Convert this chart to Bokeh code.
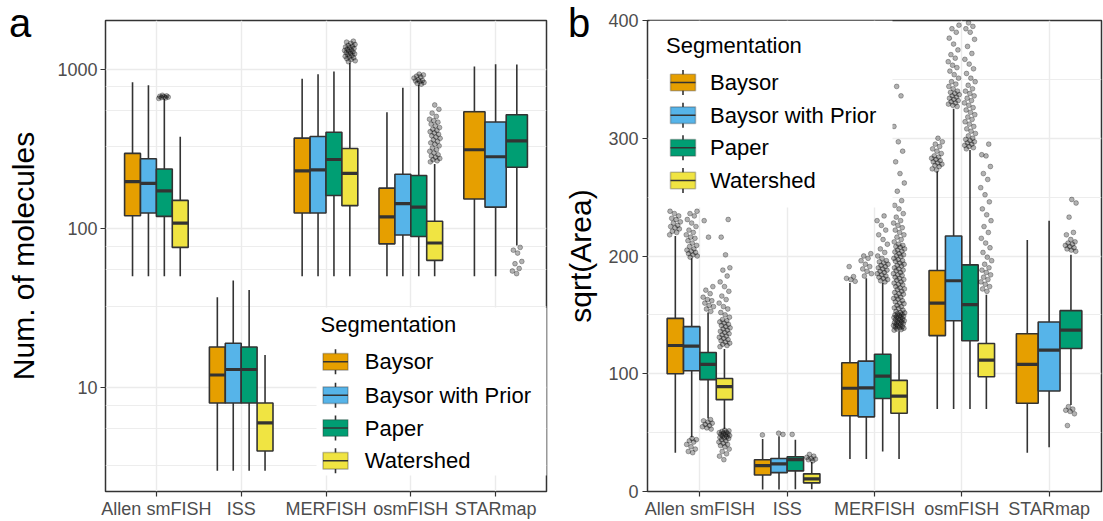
from bokeh.plotting import figure
from bokeh.layouts import row, column
from bokeh.models import (Range1d, FixedTicker, PrintfTickFormatter, Label, Div,
                          BoxAnnotation, Arrow, ColumnDataSource)
from bokeh.embed import file_html
from bokeh.resources import INLINE

FONT = "Liberation Sans"

# ---------------- data ----------------
categories = ["Allen smFISH", "ISS", "MERFISH", "osmFISH", "STARmap"]
methods = ["Baysor", "Baysor with Prior", "Paper", "Watershed"]
method_colors = ["#E69F00", "#56B4E9", "#009E73", "#F0E442"]

group_category = (["Allen smFISH"] * 4 + ["ISS"] * 4 + ["MERFISH"] * 4 +
                  ["osmFISH"] * 4 + ["STARmap"] * 3)
group_method = methods * 4 + methods[:3]

# (a) number of molecules per cell: whisker low, Q1, median, Q3, whisker high
molecules_low = [50, 50, 50, 50, 3, 3, 3, 3, 50, 50, 50, 50, 50, 50, 50, 50, 50, 50, 78]
molecules_q1 = [120, 125, 119, 76, 8, 8, 8, 4, 125, 125, 161, 139, 80, 91, 89, 63, 153, 136, 242]
molecules_median = [197, 192, 172, 108, 12, 13, 13, 6, 230, 233, 271, 222, 118, 143, 136, 81, 312, 282, 355]
molecules_q3 = [296, 274, 236, 150, 18, 19, 18, 8, 369, 378, 402, 318, 179, 219, 215, 111, 541, 466, 518]
molecules_high = [829, 794, 650, 376, 37, 47, 41, 16, 870, 930, 967, 1100, 536, 764, 800, 254, 1040, 1075, 1070]

molecules_outliers = {
    ("Allen smFISH", "Paper"): [655, 660, 664, 668, 672, 676, 680, 686],
    ("MERFISH", "Watershed"): [1115, 1130, 1150, 1165, 1180, 1195, 1205, 1220, 1235, 1250, 1260,
                               1270, 1285, 1300, 1310, 1320, 1335, 1350, 1365, 1380, 1395, 1410,
                               1430, 1455, 1480, 1500],
    ("osmFISH", "Paper"): [806, 815, 825, 835, 845, 850, 860, 880, 895, 905, 920, 931],
    ("osmFISH", "Watershed"): [262, 266, 270, 275, 280, 285, 290, 298, 305, 312, 320, 330, 338,
                               345, 352, 360, 368, 375, 382, 390, 398, 405, 412, 420, 430, 440,
                               452, 465, 475, 485, 505, 530, 560, 596],
    ("STARmap", "Paper"): [52, 54, 56, 60, 62, 70, 73, 76],
}

# (b) sqrt(Area): whisker low, Q1, median, Q3, whisker high
area_low = [33, 46, 62, 53, 1.7, 1.7, 2, 2, 27.6, 27.6, 34, 27.6, 70, 70, 70, 70, 33, 37.5, 73.5]
area_q1 = [100, 102.5, 95, 78, 14, 16, 17.5, 7.3, 64.3, 63.4, 79, 66.5, 132.4, 145, 128, 97.5, 75, 85.4, 121.5]
area_median = [124, 123.5, 108, 89, 22, 23.5, 27, 10.7, 87.7, 88, 98, 81, 160, 179, 158.7, 111.6, 108, 120, 137]
area_q3 = [147, 140, 118, 96, 27, 28, 29.5, 15, 109.4, 110.7, 116.5, 94.4, 187.7, 217, 192.5, 125.7, 134, 144, 153.6]
area_high = [217, 198, 152, 121, 44.5, 47, 44, 25, 177, 181, 177, 136, 272, 325, 290, 167, 213.6, 230, 201]

area_outliers = {
    ("Allen smFISH", "Baysor"): [218, 220, 221, 223, 224, 225, 226, 228, 229, 231, 232, 234, 236, 238],
    ("Allen smFISH", "Baysor with Prior"): [199, 200, 201, 202, 203, 204, 205, 206, 208, 209, 211,
                                            213, 215, 216, 218, 220, 222, 225, 228, 231, 234, 236,
                                            238, 33, 34, 36, 38, 40, 42, 43, 44, 45],
    ("Allen smFISH", "Paper"): [153, 155, 157, 158, 160, 162, 163, 165, 168, 171, 174, 216, 230,
                                53, 54, 55, 56, 57, 58, 59, 60, 61],
    ("Allen smFISH", "Watershed"): [123, 124, 125, 126, 127, 128, 129, 130, 131, 132, 133, 134, 135,
                                    136, 137, 138, 139, 140, 141, 142, 143, 144, 145, 146, 148, 150,
                                    152, 155, 157, 160, 163, 166, 170, 174, 178, 183, 188, 190, 201,
                                    216, 231, 27, 30, 32, 34, 36, 38, 39, 40, 41, 42, 43, 44, 45,
                                    45.5, 46, 46.5, 47, 47.5, 48, 48.5, 49, 49.5, 50, 50.5, 51, 51.5, 52],
    ("ISS", "Baysor"): [48],
    ("ISS", "Baysor with Prior"): [48.5, 49.5],
    ("ISS", "Paper"): [48.5],
    ("ISS", "Watershed"): [26, 27, 27.5, 28, 29, 30, 31.5],
    ("MERFISH", "Baysor"): [178.5, 180, 181, 182.5, 191],
    ("MERFISH", "Baysor with Prior"): [183, 185, 187, 189, 191, 193, 196, 198, 200, 202],
    ("MERFISH", "Paper"): [178, 179, 180, 181, 182, 183, 184, 185, 186, 187, 188, 189, 190, 191,
                           192, 193, 194, 195, 196, 198, 200, 203, 206, 210, 214, 218, 222, 226,
                           230, 234, 247],
    ("MERFISH", "Watershed"): [137, 137.5, 138, 138.6, 139, 139.7, 140, 140.4, 141, 141.8, 142,
                               142.5, 143, 143.6, 144, 144.3, 145, 145.8, 146, 146.5, 147, 147.7,
                               148, 148.4, 149, 149.6, 150, 150.5, 151, 151.7, 152, 153, 154, 155.5,
                               156, 157, 158, 159.5, 160, 161, 162, 163.5, 164, 165, 166, 167.5,
                               168, 169, 170, 171.5, 172, 173, 174, 175.5, 176, 177, 178, 179.5,
                               180, 181, 182, 183.5, 184, 185, 186, 187.5, 188, 189, 190, 191.5,
                               192, 193, 194, 195.5, 196, 197, 198, 199.5, 200, 201, 202, 203.5,
                               204, 205, 206, 207.5, 208, 209, 210, 212, 214, 216, 218, 220, 222,
                               224, 226, 228, 230, 233, 236, 240, 243, 247, 255, 262, 270, 280,
                               289, 297, 310, 336, 344],
    ("osmFISH", "Baysor"): [273, 274, 276, 277, 278, 279, 280, 281, 282, 283, 284, 285, 287, 289,
                            291, 293, 295, 297, 300],
    ("osmFISH", "Baysor with Prior"): [327, 328, 329, 330, 331, 332, 333, 334, 335, 336, 337, 338,
                                       339, 340, 342, 344, 346, 348, 351, 354, 357, 360, 362, 365,
                                       368, 371, 375, 380, 385, 390, 393, 396],
    ("osmFISH", "Paper"): [291, 292, 293, 294, 295, 296, 297, 298, 299, 300, 302, 304, 306, 308,
                           310, 312, 314, 316, 318, 320, 322, 324, 326, 328, 330, 332, 334, 336,
                           338, 340, 342, 345, 348, 351, 355, 359, 363, 367, 372, 378, 384, 390,
                           393, 395, 398],
    ("osmFISH", "Watershed"): [170, 172, 174, 176, 178, 180, 182, 184, 186, 188, 190, 193, 196,
                               199, 203, 207, 211, 215, 220, 225, 230, 235, 240, 246, 252, 258,
                               265, 270, 276, 285, 286, 295],
    ("STARmap", "Paper"): [204, 205, 206, 207, 208, 209, 210, 211, 212, 214, 218, 220, 233, 245,
                           248, 56, 66, 68, 69, 70, 72],
}

mol_major_ticks = [10, 100, 1000]
mol_minor_ticks = [3.25, 5.5, 7.75, 32.5, 55, 77.5, 325, 550, 775]
area_major_ticks = [0, 100, 200, 300, 400]
area_minor_ticks = [50, 150, 250, 350]

# ---------------- styling ----------------
DARK = "#333333"
GRID = "#EBEBEB"
TICK_TXT = "#4D4D4D"
JIT = 0.065


def dodge():
    xs, ws = [], []
    for c, m in zip(group_category, group_method):
        present = [mm for cc, mm in zip(group_category, group_method) if cc == c]
        n = len(present)
        j = present.index(m)
        w = 0.75 / n
        xs.append(categories.index(c) + 1 + (j - (n - 1) / 2) * w)
        ws.append(w)
    return xs, ws


def make_panel(low, q1, med, q3, high, outliers, log, yr, major, minor, ylabel,
               width, x_off, bl, br, legend_spec, ylab_standoff, ylab_standoff_ticks):
    fl, fb = x_off + bl, 521 - 28   # frame left / bottom in page pixels
    kw = dict(width=width, height=521, x_range=Range1d(0.4, 5.6), y_range=yr,
              output_backend="svg", toolbar_location=None,
              min_border_left=bl, min_border_right=br, min_border_top=20, min_border_bottom=28)
    if log:
        kw["y_axis_type"] = "log"
    p = figure(**kw)
    p.background_fill_color = "white"
    p.border_fill_color = None
    p.outline_line_color = DARK
    p.outline_line_width = 1.5

    # axes
    p.xaxis.ticker = FixedTicker(ticks=[1, 2, 3, 4, 5])
    p.xaxis.major_label_overrides = {i + 1: c for i, c in enumerate(categories)}
    p.yaxis.ticker = FixedTicker(ticks=major, minor_ticks=minor)
    p.yaxis.formatter = PrintfTickFormatter(format="%d")
    for ax in (p.xaxis[0], p.yaxis[0]):
        ax.axis_line_color = None
        ax.major_tick_line_color = DARK
        ax.major_tick_line_width = 1.2
        ax.major_tick_out = 5
        ax.major_tick_in = 0
        ax.minor_tick_out = 0
        ax.minor_tick_in = 0
        ax.minor_tick_line_color = None
        ax.major_label_text_font = FONT
        ax.major_label_text_font_size = "18px"
        ax.major_label_text_color = TICK_TXT
    p.xaxis.major_label_standoff = 2
    p.yaxis.major_label_standoff = ylab_standoff_ticks
    p.yaxis.axis_label = ylabel
    p.yaxis.axis_label_text_font = FONT
    p.yaxis.axis_label_text_font_size = "30px"
    p.yaxis.axis_label_text_font_style = "normal"
    p.yaxis.axis_label_text_color = "black"
    p.yaxis.axis_label_standoff = ylab_standoff

    # grids
    p.xgrid.ticker = FixedTicker(ticks=[1, 2, 3, 4, 5])
    p.xgrid.grid_line_color = GRID
    p.xgrid.grid_line_width = 1.4
    p.ygrid.ticker = FixedTicker(ticks=major, minor_ticks=minor)
    p.ygrid.grid_line_color = GRID
    p.ygrid.grid_line_width = 1.4
    p.ygrid.minor_grid_line_color = GRID
    p.ygrid.minor_grid_line_width = 0.9

    xs, ws = dodge()
    cols = [method_colors[methods.index(m)] for m in group_method]
    src = ColumnDataSource(dict(x=xs, w=ws, x0=[x - w / 2 for x, w in zip(xs, ws)],
                                x1=[x + w / 2 for x, w in zip(xs, ws)],
                                low=low, q1=q1, med=med, q3=q3, high=high, color=cols))
    p.segment(x0="x", x1="x", y0="q3", y1="high", source=src, line_color=DARK, line_width=1.6)
    p.segment(x0="x", x1="x", y0="low", y1="q1", source=src, line_color=DARK, line_width=1.6)
    p.vbar(x="x", width="w", top="q3", bottom="q1", source=src, fill_color="color",
           line_color=DARK, line_width=1.6)
    p.segment(x0="x0", x1="x1", y0="med", y1="med", source=src, line_color=DARK, line_width=3.2)

    # outliers with deterministic horizontal jitter
    ox, oy = [], []
    for k, (key, vals) in enumerate(outliers.items()):
        gi = [i for i, (c, m) in enumerate(zip(group_category, group_method)) if (c, m) == key][0]
        for n, v in enumerate(vals):
            off = (((n * 0.6180339887 + k * 0.37) % 1.0) - 0.5) * 2 * JIT
            ox.append(xs[gi] + off)
            oy.append(v)
    p.scatter(ox, oy, size=4.8, fill_color="black", fill_alpha=0.3,
              line_color="black", line_alpha=0.5, line_width=0.6)

    # legend (ggplot style keys), positions given in page pixels
    bg, title_xy, key_left, key_w, rows, label_x = legend_spec
    p.add_layout(BoxAnnotation(left=bg[0] - fl, right=bg[1] - fl, top=fb - bg[2], bottom=fb - bg[3],
                               left_units="screen", right_units="screen",
                               top_units="screen", bottom_units="screen",
                               fill_color="white", fill_alpha=1.0, line_color=None))
    p.add_layout(Label(x=title_xy[0] - fl, y=fb - title_xy[1], x_units="screen", y_units="screen",
                       text="Segmentation", text_font=FONT, text_font_size="22px",
                       text_baseline="middle", text_color="black"))
    for m, c, ry in zip(methods, method_colors, rows):
        cx = key_left + key_w / 2
        p.add_layout(Arrow(x_start=cx - fl, y_start=fb - (ry - 12.5), x_end=cx - fl, y_end=fb - (ry + 12.5),
                           start_units="screen", end_units="screen", end=None,
                           line_color=DARK, line_width=1.6))
        p.add_layout(BoxAnnotation(left=key_left - fl, right=key_left + key_w - fl,
                                   top=fb - (ry - 8.3), bottom=fb - (ry + 8.3),
                                   left_units="screen", right_units="screen",
                                   top_units="screen", bottom_units="screen",
                                   fill_color=c, fill_alpha=1.0, line_color=DARK, line_width=1.6))
        p.add_layout(Arrow(x_start=key_left - fl, y_start=fb - ry, x_end=key_left + key_w - fl, y_end=fb - ry,
                           start_units="screen", end_units="screen", end=None,
                           line_color=DARK, line_width=1.6))
        p.add_layout(Label(x=label_x - fl, y=fb - ry, x_units="screen", y_units="screen",
                           text=m, text_font=FONT, text_font_size="22px",
                           text_baseline="middle", text_color="black"))
    return p


legend_a = ((316, 547, 309, 477), (320, 326), 322.5, 25, [363.3, 396.7, 429.5, 462.3], 364.3)
legend_b = ((649, 892, 22, 209), (665.6, 46.7), 670, 25, [84, 116.7, 149.3, 182], 709.6)

pa = make_panel(molecules_low, molecules_q1, molecules_median, molecules_q3, molecules_high,
                molecules_outliers, True, Range1d(10 ** 0.3475, 10 ** 3.306),
                mol_major_ticks, mol_minor_ticks, "Num. of molecules",
                560, 0, 105, 14, legend_a, 14, 3)
pb = make_panel(area_low, area_q1, area_median, area_q3, area_high,
                area_outliers, False, Range1d(0, 400),
                area_major_ticks, area_minor_ticks, "sqrt(Area)",
                543, 560, 87, 2, legend_b, 8, 4)

letter_style = {"position": "absolute", "z-index": "10", "font-family": FONT,
                "font-size": "40px", "line-height": "40px", "color": "black", "margin": "0"}
div_a = Div(text="a", width=30, height=44, margin=0,
            styles=dict(letter_style, left="9px", top="3px"))
div_b = Div(text="b", width=30, height=44, margin=0,
            styles=dict(letter_style, left="568px", top="3px"))

layout = column(div_a, div_b, row(pa, pb), margin=0)
open("out.html", "w").write(file_html(layout, INLINE))
